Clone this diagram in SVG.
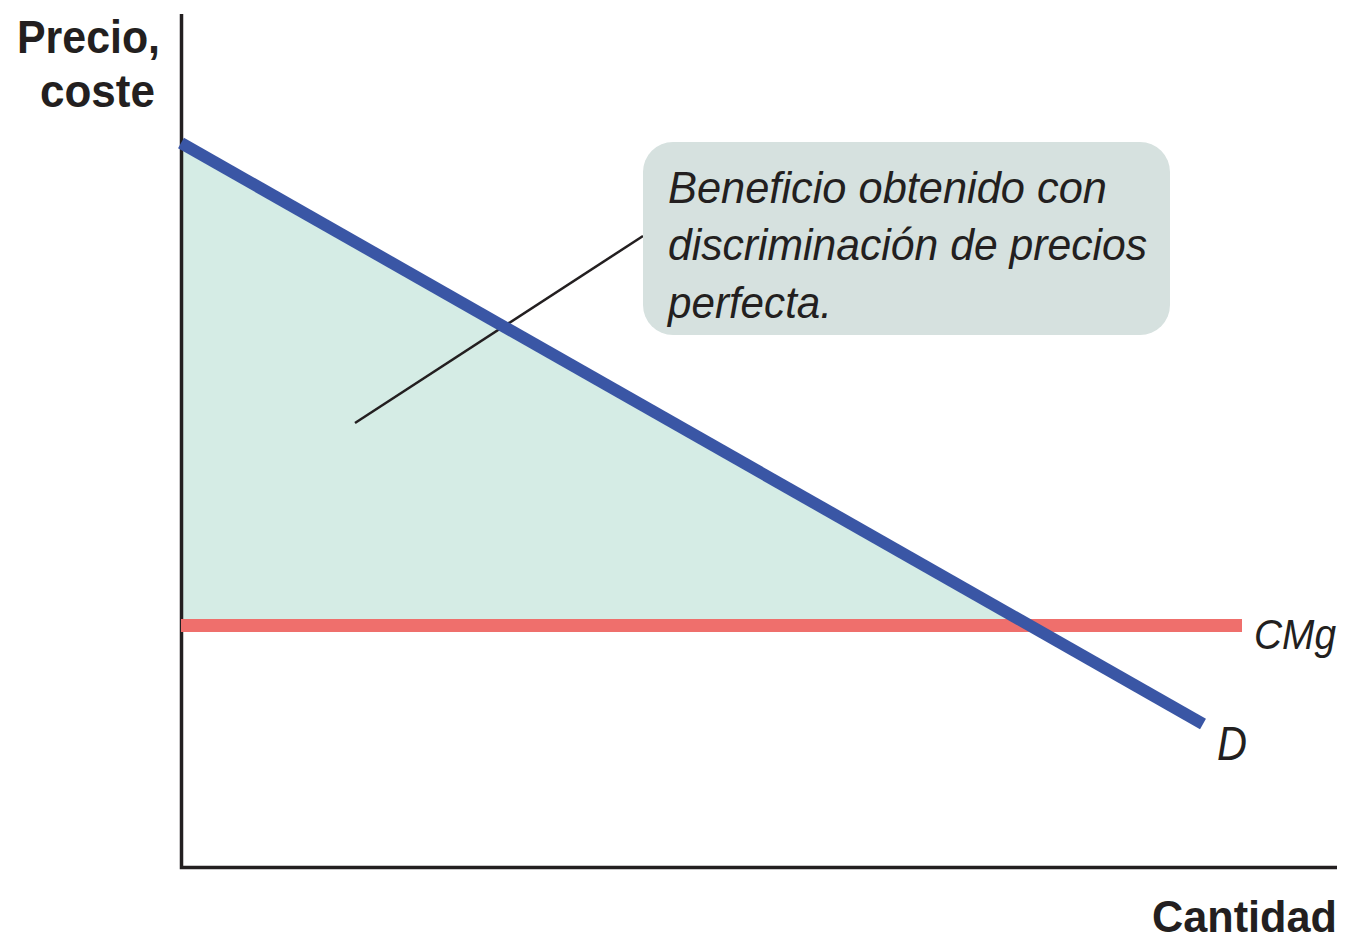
<svg xmlns="http://www.w3.org/2000/svg" width="1347" height="943" viewBox="0 0 1347 943">
<style>
.ax{stroke:#231f20;stroke-width:3.5;fill:none}
.lbl{font-family:"Liberation Sans",sans-serif;font-weight:bold;font-size:47px;fill:#231f20}
.lblr{font-family:"Liberation Sans",sans-serif;font-weight:bold;font-size:44px;fill:#231f20}
.it{font-family:"Liberation Sans",sans-serif;font-style:italic;font-size:48px;fill:#231f20}
.itr{font-family:"Liberation Sans",sans-serif;font-style:italic;font-size:43px;fill:#231f20}
.note{font-family:"Liberation Sans",sans-serif;font-style:italic;font-size:45px;fill:#231f20}
</style>
<rect width="1347" height="943" fill="#ffffff"/>
<g id="area"><polygon points="181,143 181,620 1020,620" fill="#d5ece5"/></g>
<g id="axes">
<path class="ax" d="M181.5,14 V867.5 H1337"/>
</g>
<g id="connectors">
<line x1="355" y1="423" x2="643" y2="236" stroke="#231f20" stroke-width="2.5"/>
</g>
<g id="cmg"><line x1="181" y1="625.5" x2="1242" y2="625.5" stroke="#ef6f6c" stroke-width="13"/></g>
<g id="demand"><line x1="181" y1="143" x2="1203" y2="724" stroke="#3a56a5" stroke-width="12"/></g>
<g id="callout">
<rect x="643" y="142" width="527" height="193" rx="30" ry="30" fill="#d6e1df"/>
<text class="note" x="668" y="203" textLength="439" lengthAdjust="spacingAndGlyphs">Beneficio obtenido con</text>
<text class="note" x="668" y="260" textLength="479" lengthAdjust="spacingAndGlyphs">discriminación de precios</text>
<text class="note" x="668" y="318" textLength="164" lengthAdjust="spacingAndGlyphs">perfecta.</text>
</g>
<g id="labels">
<text class="lbl" x="17" y="53" textLength="143" lengthAdjust="spacingAndGlyphs">Precio,</text>
<text class="lbl" x="40" y="107" textLength="115" lengthAdjust="spacingAndGlyphs">coste</text>
<text class="lblr" x="1152" y="932" textLength="185" lengthAdjust="spacingAndGlyphs">Cantidad</text>
<text class="itr" x="1254" y="649" textLength="82" lengthAdjust="spacingAndGlyphs">CMg</text>
<text class="it" x="1217" y="760" textLength="30" lengthAdjust="spacingAndGlyphs">D</text>
</g>
</svg>
